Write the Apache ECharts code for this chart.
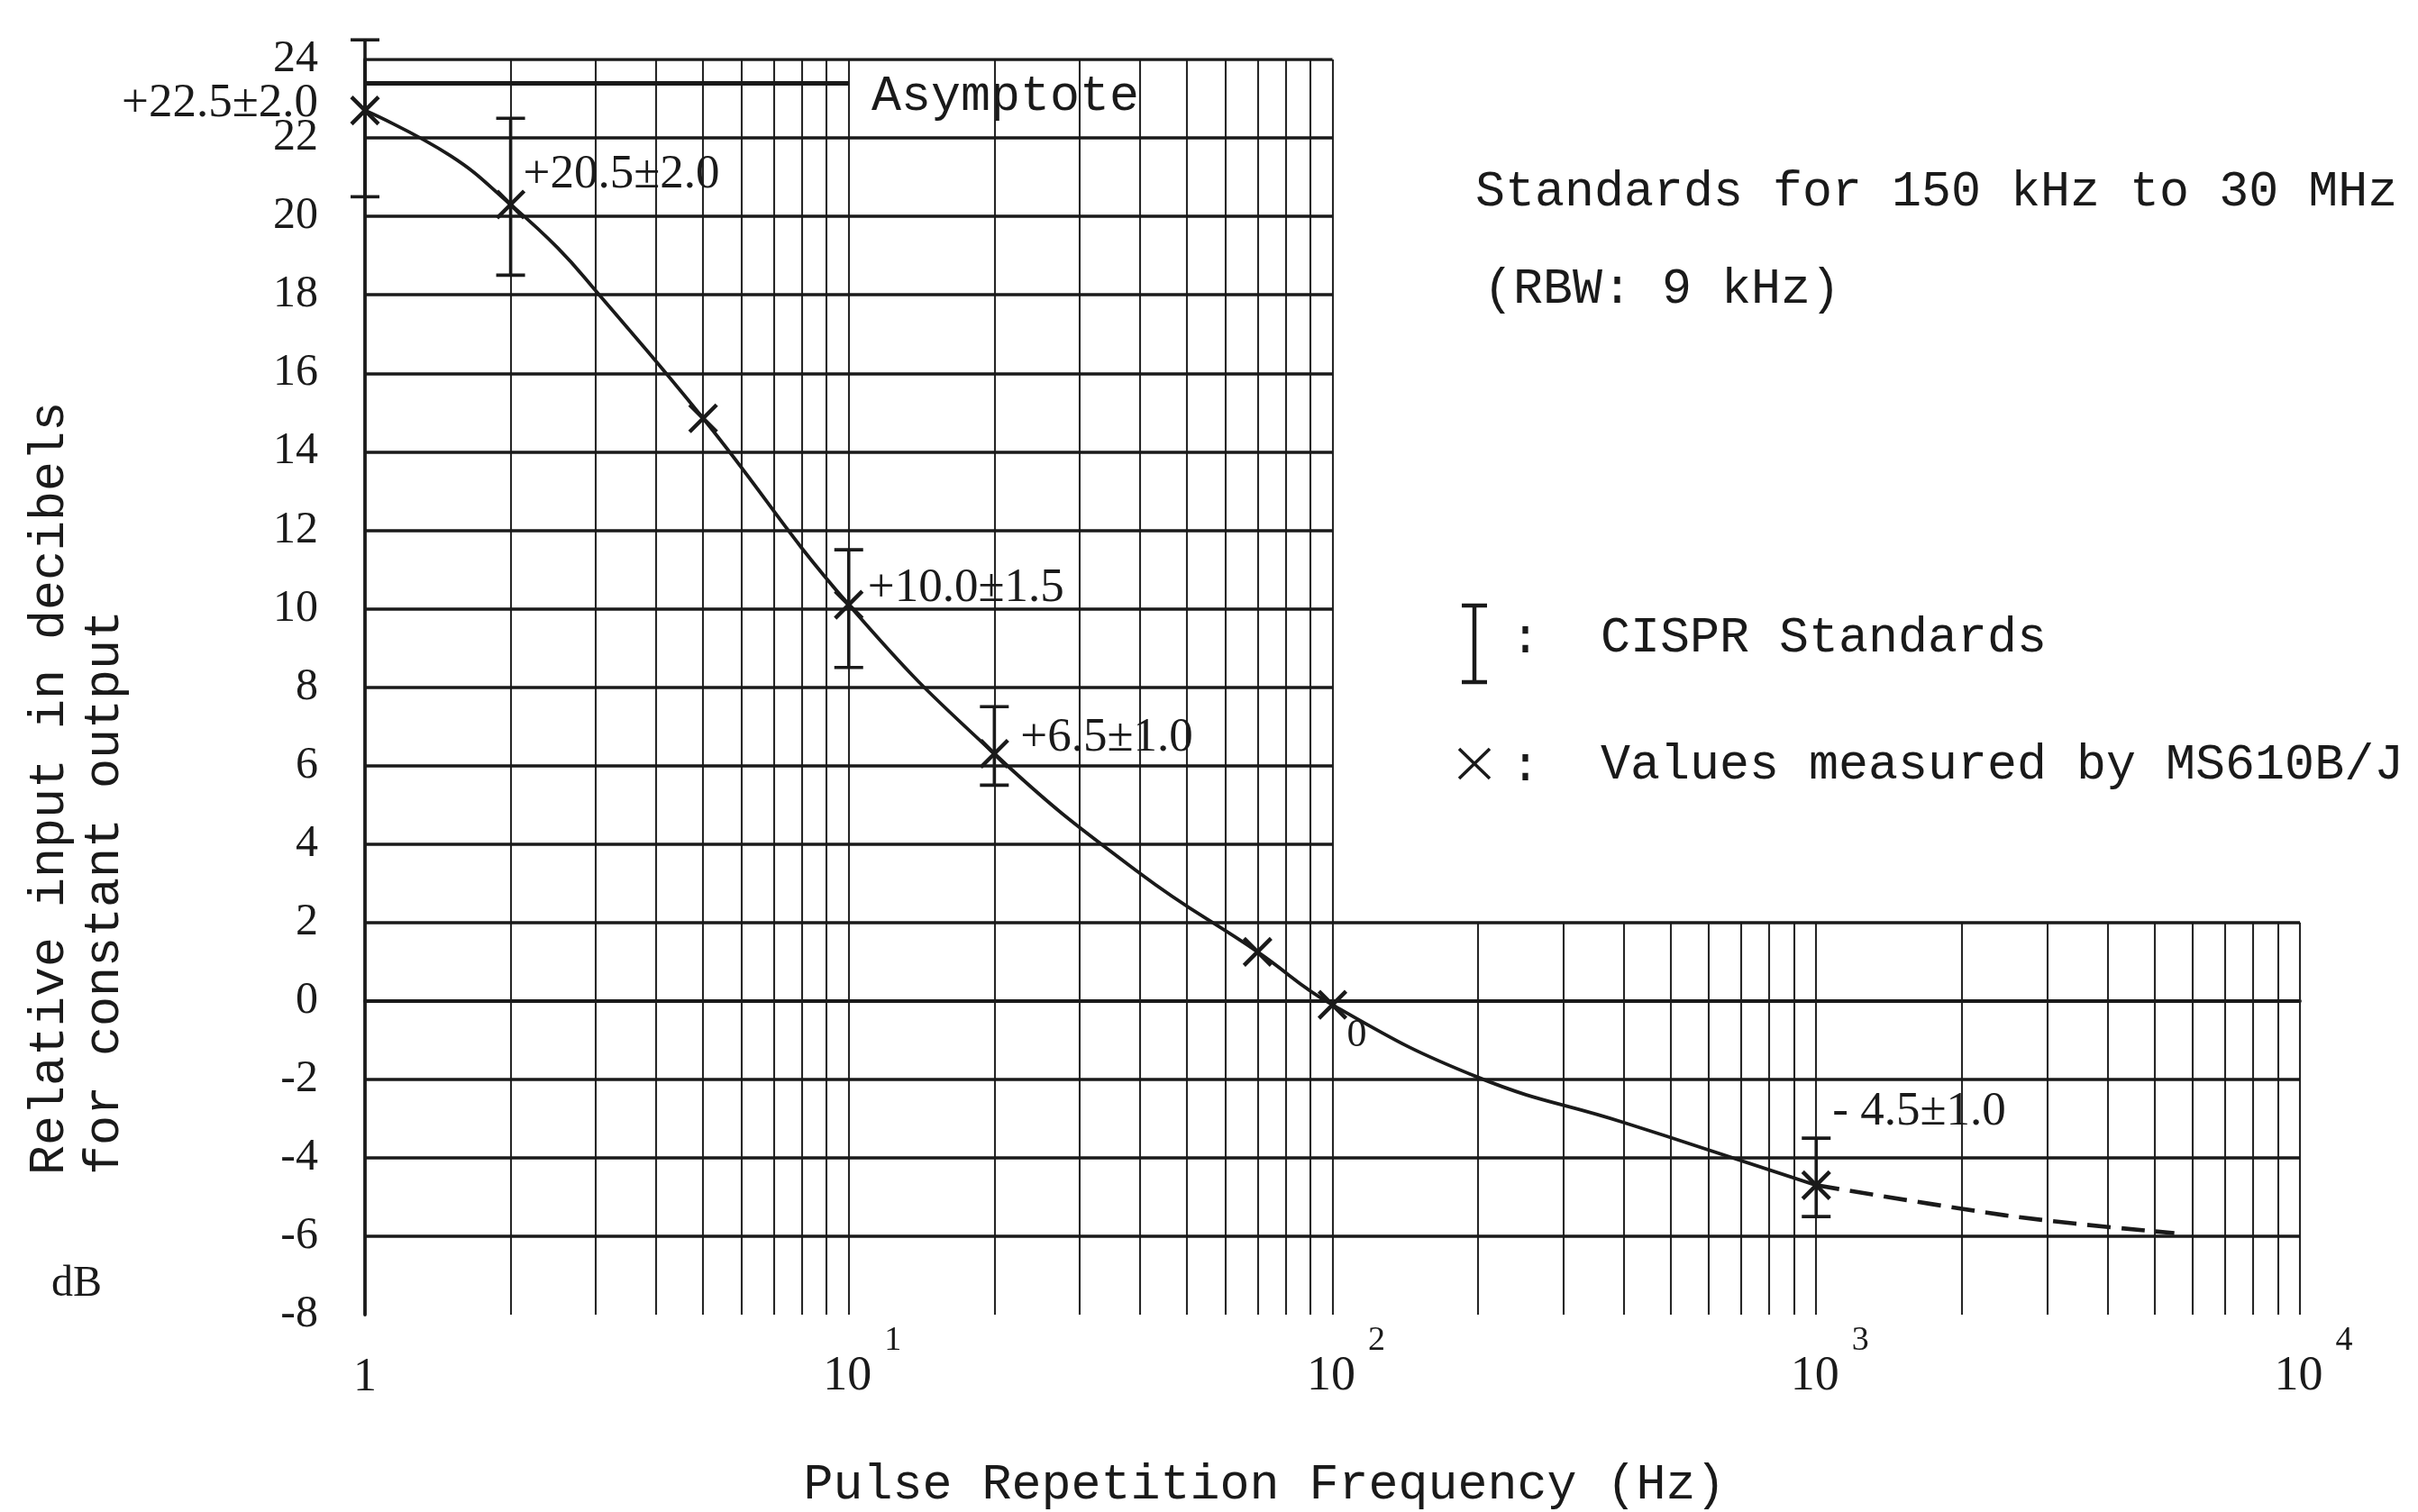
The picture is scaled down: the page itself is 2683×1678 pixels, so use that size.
<!DOCTYPE html>
<html>
<head>
<meta charset="utf-8">
<script src="https://cdn.jsdelivr.net/npm/echarts@6/dist/echarts.min.js"></script>
<style>
  html, body { margin: 0; padding: 0; background: #ffffff; }
  #chart { width: 2683px; height: 1678px; }
</style>
</head>
<body>
<div id="chart"></div>
<script>
// ---------------- data ----------------
// axis ranges
const xMin = 1, xMid = 100, xMax = 10000;
const yMin = -8, yBreak = 2, yMax = 24, yInterval = 2;
const xTickExponents = [0, 1, 2, 3, 4];

// grid lines of the printed chart paper
const xLinesFull = [2, 3, 4, 5, 6, 7, 8, 9, 10, 20, 30, 40, 50, 60, 70, 80, 90, 100];
const xLinesLower = [200, 300, 400, 500, 600, 700, 800, 900, 1000, 2000, 3000, 4000, 5000, 6000, 7000, 8000, 9000, 10000];
const yLinesUpper = [4, 6, 8, 10, 12, 14, 16, 18, 20, 22, 24];
const yLinesLower = [-6, -4, -2, 0, 2];
const asymptoteY = 23.4;
const asymptoteXEnd = 10;

// smooth response curve (solid part, then dashed extrapolation)
const curveX = [1, 1.5, 2, 2.5, 3, 5, 10, 20, 40, 70, 100, 200, 400, 1000];
const curveY = [22.7, 21.55, 20.3, 19.2, 18.1, 14.85, 10.1, 6.3, 3.25, 1.25, -0.1, -1.95, -3.1, -4.7];
const dashX = [1000, 2000, 3000, 5500];
const dashY = [-4.7, -5.3, -5.6, -5.92];

// CISPR standards (error bars)
const stdX = [1, 2, 10, 20, 1000];
const stdVal = [22.5, 20.5, 10.0, 6.5, -4.5];
const stdTol = [2.0, 2.0, 1.5, 1.0, 1.0];

// values measured by MS610B/J
const measX = [1, 2, 5, 10, 20, 70, 100, 1000];
const measY = [22.7, 20.3, 14.85, 10.1, 6.3, 1.25, -0.1, -4.7];
const measLabelIndex = 6;   // the "0" written next to the 100 Hz point
const measLabelText = '0';

// ---------------- styles / layout ----------------
const INK = '#1a1a1a';
const SERIF = '"Liberation Serif", "DejaVu Serif", serif';
const MONO = '"Liberation Mono", "DejaVu Sans Mono", monospace';
// label placement (px) for the standard annotations: [position, dx, dy]
const stdLabelStyle = [
  ['left', -52, -16],
  ['right', 14, -24],
  ['right', 21, -22],
  ['right', 29, -9],
  ['right', 18, -73]
];

const chart = echarts.init(document.getElementById('chart'), null, { renderer: 'canvas' });

function seg(x1, y1, x2, y2) { return { coords: [[x1, y1], [x2, y2]] }; }

const hLines = [];
yLinesUpper.forEach(v => hLines.push(seg(xMin, v, xMid, v)));
yLinesLower.forEach(v => hLines.push(seg(xMin, v, xMax, v)));
const vLines = [];
xLinesFull.forEach(v => vLines.push(seg(v, yMin, v, yMax)));
xLinesLower.forEach(v => vLines.push(seg(v, yMin, v, yBreak)));
const asymLine = [seg(xMin, asymptoteY, asymptoteXEnd, asymptoteY)];

const curveData = curveX.map((x, i) => [x, curveY[i]]);
const dashData = dashX.map((x, i) => [x, dashY[i]]);
const stdData = stdX.map((x, i) => [x, stdVal[i] - stdTol[i], stdVal[i] + stdTol[i], stdVal[i]]);
const measData = measX.map((x, i) => [x, measY[i]]);

function fmtStd(v, t) {
  const sign = v < 0 ? '- ' : '+';
  return sign + Math.abs(v).toFixed(1) + '±' + t.toFixed(1);
}

const stdLabelData = stdX.map((x, i) => ({
  value: [x, stdVal[i]],
  label: {
    show: true,
    position: stdLabelStyle[i][0],
    offset: [stdLabelStyle[i][1], stdLabelStyle[i][2]],
    distance: 0,
    color: INK,
    formatter: fmtStd(stdVal[i], stdTol[i])
  }
}));

const option = {
  backgroundColor: '#ffffff',
  animation: false,
  grid: { left: 405, right: 131, top: 66, bottom: 219, containLabel: false },
  xAxis: {
    type: 'log', logBase: 10, min: xMin, max: xMax,
    axisLine: { show: true, lineStyle: { color: INK, width: 3.8 } },
    axisTick: { show: false },
    splitLine: { show: false },
    minorSplitLine: { show: false },
    axisLabel: {
      margin: 10,
      formatter: function (val) {
        const e = Math.round(Math.log10(val));
        if (xTickExponents.indexOf(e) < 0) return '';
        return e === 0 ? '{one|1}' : '{b|10}{sup|' + e + '}';
      },
      rich: {
        one: { fontFamily: SERIF, fontSize: 52, color: INK, lineHeight: 86, verticalAlign: 'bottom' },
        b: { fontFamily: SERIF, fontSize: 54, color: INK, lineHeight: 86, verticalAlign: 'bottom', padding: [0, 0, 0, 30] },
        sup: { fontFamily: SERIF, fontSize: 38, color: INK, lineHeight: 86, verticalAlign: 'top', padding: [0, 0, 0, 14] }
      }
    }
  },
  yAxis: {
    type: 'value', min: yMin, max: yMax, interval: yInterval,
    axisLine: { show: true, lineStyle: { color: INK, width: 3.8 } },
    axisTick: { show: false },
    splitLine: { show: false },
    axisLabel: { margin: 52, fontFamily: SERIF, fontSize: 50, color: INK }
  },
  series: [
    {
      type: 'lines', coordinateSystem: 'cartesian2d', silent: true, z: 1,
      data: vLines,
      lineStyle: { color: '#262626', width: 2.1, opacity: 1 }
    },
    {
      type: 'lines', coordinateSystem: 'cartesian2d', silent: true, z: 2,
      data: hLines,
      lineStyle: { color: INK, width: 3.6, opacity: 1 }
    },
    {
      type: 'lines', coordinateSystem: 'cartesian2d', silent: true, z: 2,
      data: asymLine,
      lineStyle: { color: INK, width: 5, opacity: 1 }
    },
    {
      type: 'line', data: curveData, smooth: 0.45, showSymbol: false, silent: true, z: 5,
      lineStyle: { color: INK, width: 3.8 }
    },
    {
      type: 'line', data: dashData, smooth: 0.45, showSymbol: false, silent: true, z: 5,
      lineStyle: { color: INK, width: 4.6, type: [26, 12] }
    },
    {
      type: 'custom', z: 6, silent: true,
      data: stdData,
      renderItem: function (params, api) {
        const x = api.value(0);
        const top = api.coord([x, api.value(2)]);
        const bot = api.coord([x, api.value(1)]);
        const cap = 16;
        const st = { stroke: INK, lineWidth: 3.6 };
        return {
          type: 'group', children: [
            { type: 'line', shape: { x1: top[0], y1: top[1], x2: bot[0], y2: bot[1] }, style: st },
            { type: 'line', shape: { x1: top[0] - cap, y1: top[1], x2: top[0] + cap, y2: top[1] }, style: st },
            { type: 'line', shape: { x1: bot[0] - cap, y1: bot[1], x2: bot[0] + cap, y2: bot[1] }, style: st }
          ]
        };
      }
    },
    {
      type: 'custom', z: 7, silent: true,
      data: measData,
      renderItem: function (params, api) {
        const p = api.coord([api.value(0), api.value(1)]);
        const h = 15;
        const st = { stroke: INK, lineWidth: 4.4 };
        return {
          type: 'group', children: [
            { type: 'line', shape: { x1: p[0] - h, y1: p[1] - h, x2: p[0] + h, y2: p[1] + h }, style: st },
            { type: 'line', shape: { x1: p[0] - h, y1: p[1] + h, x2: p[0] + h, y2: p[1] - h }, style: st }
          ]
        };
      }
    },
    {
      type: 'scatter', z: 8, silent: true, symbolSize: 0,
      itemStyle: { opacity: 1 },
      data: stdLabelData,
      label: { fontFamily: SERIF, fontSize: 53, color: INK }
    },
    {
      type: 'scatter', z: 8, silent: true, symbolSize: 0,
      itemStyle: { opacity: 1 },
      data: [{
        value: measData[measLabelIndex],
        label: { show: true, position: 'right', distance: 0, offset: [16, 34], color: INK, formatter: measLabelText }
      }],
      label: { fontFamily: SERIF, fontSize: 44, color: INK }
    }
  ],
  graphic: [
    { type: 'text', left: 967, top: 80, style: { text: 'Asymptote', font: '55px ' + MONO, fill: INK } },
    { type: 'text', left: 1637, top: 186, style: { text: 'Standards for 150 kHz to 30 MHz', font: '55px ' + MONO, fill: INK } },
    { type: 'text', left: 1646, top: 294, style: { text: '(RBW: 9 kHz)', font: '55px ' + MONO, fill: INK } },
    // legend glyph: I-beam
    { type: 'line', shape: { x1: 1636, y1: 672, x2: 1636, y2: 757 }, style: { stroke: INK, lineWidth: 4.5 } },
    { type: 'line', shape: { x1: 1622, y1: 672, x2: 1650, y2: 672 }, style: { stroke: INK, lineWidth: 4.5 } },
    { type: 'line', shape: { x1: 1622, y1: 757, x2: 1650, y2: 757 }, style: { stroke: INK, lineWidth: 4.5 } },
    { type: 'text', left: 1676, top: 682, style: { text: ':', font: '55px ' + MONO, fill: INK } },
    { type: 'text', left: 1776, top: 681, style: { text: 'CISPR Standards', font: '55px ' + MONO, fill: INK } },
    // legend glyph: cross
    { type: 'line', shape: { x1: 1619, y1: 831, x2: 1653, y2: 864 }, style: { stroke: INK, lineWidth: 3.5 } },
    { type: 'line', shape: { x1: 1619, y1: 864, x2: 1653, y2: 831 }, style: { stroke: INK, lineWidth: 3.5 } },
    { type: 'text', left: 1676, top: 824, style: { text: ':', font: '55px ' + MONO, fill: INK } },
    { type: 'text', left: 1776, top: 822, style: { text: 'Values measured by MS610B/J', font: '55px ' + MONO, fill: INK } },
    // y axis title (rotated)
    { type: 'text', x: 55, y: 1304, rotation: Math.PI / 2,
      style: { text: 'Relative input in decibels', font: '55px ' + MONO, fill: INK, textAlign: 'left', textVerticalAlign: 'middle' } },
    { type: 'text', x: 116, y: 1304, rotation: Math.PI / 2,
      style: { text: 'for constant output', font: '55px ' + MONO, fill: INK, textAlign: 'left', textVerticalAlign: 'middle' } },
    { type: 'text', x: 85, y: 1425, style: { text: 'dB', font: '48px ' + SERIF, fill: INK, textAlign: 'center', textVerticalAlign: 'middle' } },
    // x axis title
    { type: 'text', x: 1403, y: 1648, style: { text: 'Pulse Repetition Frequency (Hz)', font: '55px ' + MONO, fill: INK, textAlign: 'center', textVerticalAlign: 'middle' } }
  ]
};

chart.setOption(option);
</script>
</body>
</html>
